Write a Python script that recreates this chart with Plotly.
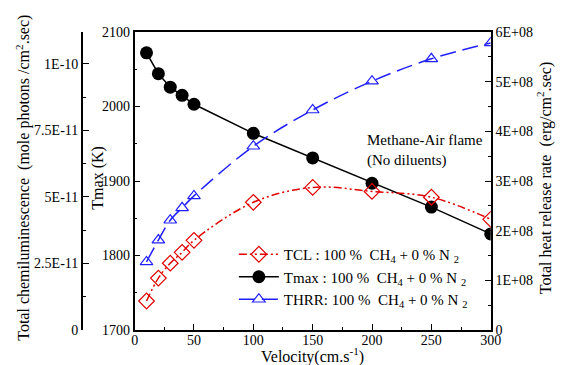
import plotly.graph_objects as go

velocity = [10, 20, 30, 40, 50, 100, 150, 200, 250, 300]
tcl = [1.09e-11, 1.95e-11, 2.51e-11, 2.92e-11, 3.37e-11, 4.80e-11, 5.36e-11, 5.21e-11, 4.99e-11, 4.16e-11]
tmax = [2072, 2044, 2026, 2015, 2003, 1964, 1931, 1897, 1865, 1829]
thrr = [1.37e8, 1.81e8, 2.21e8, 2.46e8, 2.70e8, 3.70e8, 4.43e8, 5.01e8, 5.46e8, 5.78e8]

x_ticks = [0, 50, 100, 150, 200, 250, 300]
tmax_ticks = [1700, 1800, 1900, 2000, 2100]
tcl_ticks = [0, 2.5e-11, 5e-11, 7.5e-11, 1e-10]
tcl_labels = ["0", "2.5E-11", "5E-11", "7.5E-11", "1E-10"]
thrr_ticks = [0, 1e8, 2e8, 3e8, 4e8, 5e8, 6e8]
thrr_labels = ["0", "1E+08", "2E+08", "3E+08", "4E+08", "5E+08", "6E+08"]

FONT = "Liberation Serif"
OFF = 8  # page body margin
W, H = 565 - OFF, 365 - OFF
ML, MR, MT, MB = 2, 2, 32 - OFF, 35
PW = W - ML - MR
PH = H - MT - MB


def px(v):
    return (v - OFF - ML) / PW


def py(v):
    return (H - MB - (v - OFF)) / PH


fig = go.Figure()
fig.add_trace(go.Scatter(
    x=velocity, y=tcl, yaxis="y2", mode="lines+markers",
    name="TCL : 100 %  CH<sub>4</sub> + 0 % N <sub>2</sub>",
    line=dict(color="#e00000", width=1.5, shape="spline", dash="8px,3px,2px,3px,2px,3px"),
    marker=dict(symbol="diamond-open", size=12, color="#e00000", line=dict(width=1.2)),
))
fig.add_trace(go.Scatter(
    x=velocity, y=tmax, yaxis="y", mode="lines+markers",
    name="Tmax : 100 %  CH<sub>4</sub> + 0 % N <sub>2</sub>",
    line=dict(color="black", width=1.5),
    marker=dict(symbol="circle", size=13, color="black"),
))
fig.add_trace(go.Scatter(
    x=velocity, y=thrr, yaxis="y3", mode="lines+markers",
    name="THRR: 100 %  CH<sub>4</sub> + 0 % N <sub>2</sub>",
    line=dict(color="#2020ff", width=1.5, shape="spline", dash="16px,7px"),
    marker=dict(symbol="triangle-up-open", size=11, color="#2020ff", line=dict(width=1.2)),
))

tickfont = dict(family=FONT, size=14, color="black")
fig.update_layout(
    width=W, height=H,
    margin=dict(l=ML, r=MR, t=MT, b=MB),
    paper_bgcolor="white", plot_bgcolor="white",
    font=dict(family=FONT, size=14, color="black"),
    showlegend=True,
    legend=dict(x=px(236), y=py(238), xanchor="left", yanchor="top",
                bgcolor="rgba(0,0,0,0)", font=dict(family=FONT, size=15), tracegroupgap=0,
                itemwidth=40),
    xaxis=dict(domain=[px(134), px(500)], range=[0, 300], tickvals=x_ticks,
               ticks="inside", ticklen=6, tickcolor="black", tickfont=tickfont,
               ticklabelstandoff=-4,
               minor=dict(dtick=25, ticks="inside", ticklen=3, tickcolor="black"),
               showline=True, linecolor="black", linewidth=1.5, mirror=True,
               showgrid=False, zeroline=False),
    yaxis=dict(range=[1700, 2100], tickvals=tmax_ticks, ticks="inside", ticklen=6,
               tickcolor="black", tickfont=tickfont,
               minor=dict(dtick=50, ticks="inside", ticklen=3, tickcolor="black"),
               showline=True, linecolor="black", linewidth=1.5, mirror=True,
               showgrid=False, zeroline=False),
    yaxis2=dict(overlaying="y", anchor="free", position=px(80), side="left",
                range=[0, 1.12e-10], tickvals=tcl_ticks, ticktext=tcl_labels,
                ticks="inside", ticklen=6, tickcolor="black", tickfont=tickfont,
                minor=dict(dtick=1.25e-11, tick0=0, ticks="inside", ticklen=3, tickcolor="black"),
                showline=True, linecolor="black", linewidth=2,
                showgrid=False, zeroline=False),
    yaxis3=dict(overlaying="y", anchor="x", side="right",
                range=[0, 6e8], tickvals=thrr_ticks, ticktext=thrr_labels,
                ticks="inside", ticklen=6, tickcolor="black", tickfont=tickfont,
                minor=dict(dtick=5e7, ticks="inside", ticklen=3, tickcolor="black"),
                showline=True, linecolor="black", linewidth=2,
                showgrid=False, zeroline=False),
    annotations=[
        dict(text="Velocity(cm.s<sup>-1</sup>)", xref="paper", yref="paper",
             x=px(317), y=py(355), xanchor="center", yanchor="middle",
             showarrow=False, font=dict(family=FONT, size=16)),
        dict(text="Total chemiluminescence  (mole photons /cm<sup>2</sup>.sec)", xref="paper", yref="paper",
             x=px(19), y=py(178), xanchor="center", yanchor="middle",
             textangle=-90, showarrow=False, font=dict(family=FONT, size=16)),
        dict(text="Tmax (K)", xref="paper", yref="paper",
             x=px(96), y=py(178), xanchor="center", yanchor="middle",
             textangle=-90, showarrow=False, font=dict(family=FONT, size=16)),
        dict(text="Total heat release rate  (erg/cm<sup>2</sup>.sec)", xref="paper", yref="paper",
             x=px(555), y=py(178), xanchor="center", yanchor="middle",
             textangle=-90, showarrow=False, font=dict(family=FONT, size=16)),
        dict(text="Methane-Air flame<br>(No diluents)", xref="paper", yref="paper",
             x=px(371), y=py(130), xanchor="left", yanchor="top",
             align="left", showarrow=False, font=dict(family=FONT, size=15)),
    ],
)

fig.write_html("out.html")
